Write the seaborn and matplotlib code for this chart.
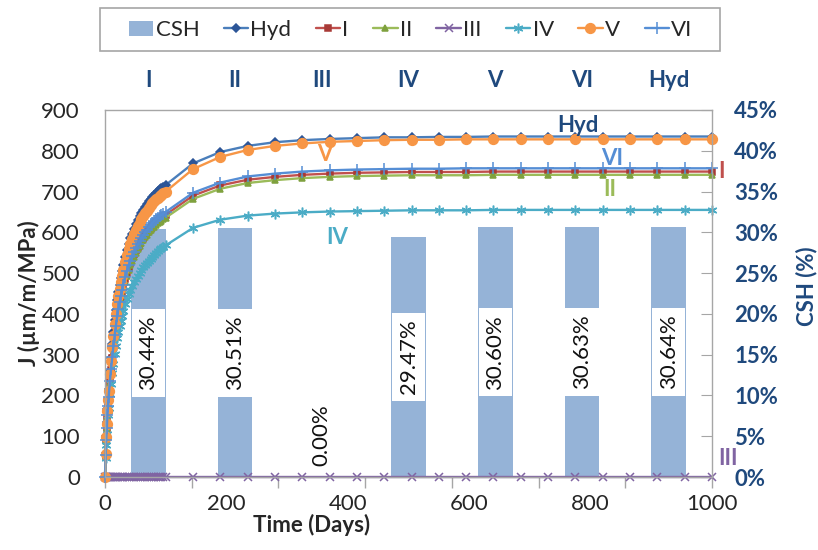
import matplotlib
matplotlib.use("Agg")
import matplotlib.pyplot as plt
import seaborn as sns
from matplotlib.ticker import FixedLocator, FuncFormatter
from matplotlib.patches import Patch, Rectangle

# Creep compliance J (um/m/MPa) over time (days) for each mix
days = [0, 1, 2, 3, 4, 5, 6, 8, 10, 12, 14, 16, 18, 20, 22, 24, 26, 28, 30, 33,
        36, 39, 42, 45, 48, 51, 54, 57, 60, 63, 66, 69, 72, 75, 78, 81, 84, 87, 90, 93,
        96, 100,
        145, 190, 235, 280, 325, 370, 415, 460, 505, 550, 595, 640, 685, 730, 775,
        820, 865, 910, 955, 1000]

j_hyd = [0, 58, 100, 134, 167, 192, 217, 259, 292, 326, 355, 384, 409, 434, 453, 472,
         488, 505, 520, 540, 557, 572, 585, 597, 609, 620, 630, 639, 647, 655, 662,
         669, 676, 681, 687, 692, 697, 701, 706, 709, 712, 716,
         769, 797, 812, 821, 826, 829, 831, 833, 833, 834, 834, 835, 835, 835, 835,
         835, 835, 835, 835, 835]
j_i = [0, 52, 90, 120, 150, 172, 195, 232, 262, 292, 318, 345, 367, 390, 407, 423,
       438, 453, 467, 485, 500, 513, 524, 536, 546, 556, 565, 573, 581, 587, 594,
       600, 606, 611, 616, 621, 625, 629, 633, 636, 639, 643,
       690, 715, 729, 736, 741, 744, 746, 747, 748, 748, 748, 749, 749, 749, 749,
       749, 749, 749, 749, 749]
j_ii = [0, 52, 89, 119, 148, 170, 193, 230, 259, 289, 315, 341, 363, 385, 402, 419,
        434, 448, 462, 479, 494, 508, 519, 530, 540, 550, 559, 567, 574, 581, 588,
        594, 600, 605, 610, 614, 619, 622, 626, 629, 632, 636,
        682, 707, 721, 728, 733, 736, 738, 739, 740, 740, 740, 741, 741, 741, 741,
        741, 741, 741, 741, 741]
j_iii = [0, 0, 0, 0, 0, 0, 0, 0, 0, 0, 0, 0, 0, 0, 0, 0, 0, 0, 0, 0, 0,
         0, 0, 0, 0, 0, 0, 0, 0, 0, 0, 0, 0, 0, 0, 0, 0, 0, 0, 0, 0,
         0, 0, 0, 0, 0, 0, 0, 0, 0, 0, 0, 0, 0, 0, 0, 0, 0, 0, 0, 0, 0]
j_iv = [0, 46, 79, 105, 131, 151, 170, 203, 229, 256, 278, 301, 321, 341, 356, 370,
        383, 396, 408, 424, 437, 449, 459, 468, 478, 486, 494, 501, 508, 514, 519,
        525, 530, 535, 540, 545, 550, 554, 558, 561, 564, 568,
        611, 631, 641, 646, 649, 651, 652, 653, 654, 654, 654, 655, 655, 655, 655,
        655, 655, 655, 655, 655]
j_v = [0, 57, 98, 130, 163, 188, 212, 253, 285, 318, 347, 375, 400, 424, 443, 461,
       477, 493, 508, 528, 544, 559, 571, 583, 595, 605, 615, 624, 632, 639, 647,
       653, 660, 666, 671, 676, 681, 685, 689, 692, 696, 700,
       755, 785, 802, 812, 818, 822, 824, 826, 827, 827, 828, 828, 828, 828, 828,
       828, 828, 828, 828, 828]
j_vi = [0, 53, 91, 121, 151, 174, 197, 235, 265, 295, 322, 348, 371, 394, 411, 428,
        443, 458, 472, 490, 505, 519, 530, 541, 552, 562, 571, 579, 587, 593, 600,
        606, 612, 618, 623, 628, 632, 636, 640, 643, 646, 650,
        697, 722, 737, 744, 749, 752, 754, 755, 756, 756, 757, 757, 757, 757, 757,
        757, 757, 757, 757, 757]

# CSH content per mix (%)
csh_groups = ["I", "II", "III", "IV", "V", "VI", "Hyd"]
csh_pct = [30.44, 30.51, 0.00, 29.47, 30.60, 30.63, 30.64]

x_ticks = [0, 200, 400, 600, 800, 1000]
j_ticks = [0, 100, 200, 300, 400, 500, 600, 700, 800, 900]
pct_ticks = [0, 5, 10, 15, 20, 25, 30, 35, 40, 45]

NAVY = "#1F497D"
GRAY = "#A6A6A6"
BAR = "#95B3D7"
TXT = "#262626"

series = [
    ("Hyd", j_hyd, dict(color="#4A7EBB", marker="D", ms=4, mfc="#2C5597", mec="#2C5597")),
    ("I", j_i, dict(color="#C0504D", marker="s", ms=4, mfc="#A83A37", mec="#A83A37")),
    ("II", j_ii, dict(color="#9BBB59", marker="^", ms=5, mfc="#7FA13E", mec="#7FA13E")),
    ("III", j_iii, dict(color="#8064A2", marker="x", ms=6, mfc="#8064A2", mec="#8064A2")),
    ("IV", j_iv, dict(color="#4BACC6", marker=(6, 2, 0), ms=7, mfc="#4BACC6", mec="#4BACC6")),
    ("V", j_v, dict(color="#F79646", marker="o", ms=7, mfc="#F79646", mec="#F79646")),
    ("VI", j_vi, dict(color="#558ED5", marker="+", ms=8, mfc="#558ED5", mec="#558ED5")),
]

sns.set_style("white")
plt.rcParams["font.family"] = ["Lato", "DejaVu Sans"]
FS = 16

fig = plt.figure(figsize=(8.18, 5.5), dpi=100)
rect = [105 / 818, 73 / 550, 607 / 818, 367 / 550]
ax_bar = fig.add_axes(rect)
ax = fig.add_axes(rect)
ax.set_zorder(ax_bar.get_zorder() + 1)
ax.patch.set_visible(False)

# --- CSH bars on the secondary (category / percent) axes ---
sns.barplot(x=csh_groups, y=csh_pct, order=csh_groups, color=BAR, width=0.4,
            saturation=1, linewidth=0, ax=ax_bar)
for i, v in enumerate(csh_pct):
    label = f"{v:.2f}%"
    box = dict(boxstyle="square,pad=0.3", fc="white", ec="none")
    if v > 0:
        ax_bar.text(i, v / 2, label, rotation=90, ha="center", va="center",
                    fontsize=FS, color="#111111", bbox=box)
    else:
        ax_bar.annotate(label, xy=(i, v), xytext=(0, 8), textcoords="offset points",
                        rotation=90, ha="center", va="bottom", fontsize=FS,
                        color="#111111")

ax_bar.set_xlim(-0.5, 6.5)
ax_bar.set_ylim(0, 45)
ax_bar.set_yticks(pct_ticks)
ax_bar.yaxis.set_major_formatter(FuncFormatter(lambda v, p: f"{v:.0f}%"))
ax_bar.yaxis.tick_right()
ax_bar.yaxis.set_label_position("right")
ax_bar.set_ylabel("CSH (%)", fontsize=FS, fontweight="bold", color=NAVY)
ax_bar.yaxis.set_label_coords(1.137, 0.52)
ax_bar.tick_params(axis="y", direction="in", length=8, color=GRAY, pad=16,
                   labelsize=FS, labelcolor=NAVY)
ax_bar.xaxis.tick_top()
ax_bar.set_xlabel("")
ax_bar.tick_params(axis="x", which="major", top=True, bottom=False, labeltop=True,
                   labelbottom=False, length=0, pad=14, labelsize=FS, labelcolor=NAVY)
ax_bar.xaxis.set_minor_locator(FixedLocator([k - 0.5 for k in range(len(csh_groups) + 1)]))
ax_bar.tick_params(axis="x", which="minor", bottom=True, top=False, direction="out",
                   length=8, color=GRAY, width=1)
for lab in ax_bar.get_xticklabels() + ax_bar.get_yticklabels():
    lab.set_fontweight("bold")
for s in ax_bar.spines.values():
    s.set_visible(False)

# --- compliance curves on the primary axes ---
for name, vals, st in series:
    sns.lineplot(x=days, y=vals, ax=ax, color=st["color"], lw=1.7,
                 marker=st["marker"], markersize=st["ms"],
                 markerfacecolor=st["mfc"], markeredgecolor=st["mec"],
                 markeredgewidth=1.1, label=name, legend=False,
                 estimator=None, errorbar=None, sort=False, clip_on=False)

ax.set_xlim(0, 1000)
ax.set_ylim(0, 900)
ax.set_xticks(x_ticks)
ax.set_yticks(j_ticks)
ax.tick_params(axis="x", length=0, pad=12, labelsize=FS, labelcolor=TXT)
ax.tick_params(axis="y", direction="in", length=10, color=GRAY, pad=18,
               labelsize=FS, labelcolor=TXT)
ax.set_xlabel("Time (Days)", fontsize=FS, fontweight="bold", color=TXT)
ax.xaxis.set_label_coords(0.341, -0.102)
ax.set_ylabel("J (µm/m/MPa)", fontsize=FS, fontweight="bold", color=TXT)
ax.yaxis.set_label_coords(-0.107, 0.5)
for s in ax.spines.values():
    s.set_visible(True)
    s.set_color(GRAY)
    s.set_linewidth(1)

# Curve names written next to the curves
notes = [("Hyd", 779, 863, NAVY), ("V", 362, 790, "#F79646"),
         ("VI", 835, 782, "#558ED5"), ("I", 1016, 750, "#C0504D"),
         ("II", 832, 704, "#9BBB59"), ("IV", 382, 588, "#4BACC6"),
         ("III", 1027, 45, "#8064A2")]
for txt, xn, yn, c in notes:
    ax.text(xn, yn, txt, color=c, fontsize=FS, fontweight="bold",
            ha="center", va="center", clip_on=False)

# Legend across the top, inside its own wider frame
lines, names = ax.get_legend_handles_labels()
handles = [Patch(facecolor=BAR, edgecolor="none")] + lines
labels = ["CSH"] + names
fig.legend(handles, labels, loc="center", bbox_to_anchor=(0.502, 0.945), ncol=8,
           frameon=False, fontsize=FS, handlelength=1.1, handletextpad=0.1,
           columnspacing=1.1, borderpad=0.35, labelcolor=TXT)
fig.add_artist(Rectangle((100 / 818, 1 - 51 / 550), 620 / 818, 43 / 550,
                         transform=fig.transFigure, fill=False, edgecolor=GRAY,
                         linewidth=1.2))

fig.savefig("out.png", dpi=100)
